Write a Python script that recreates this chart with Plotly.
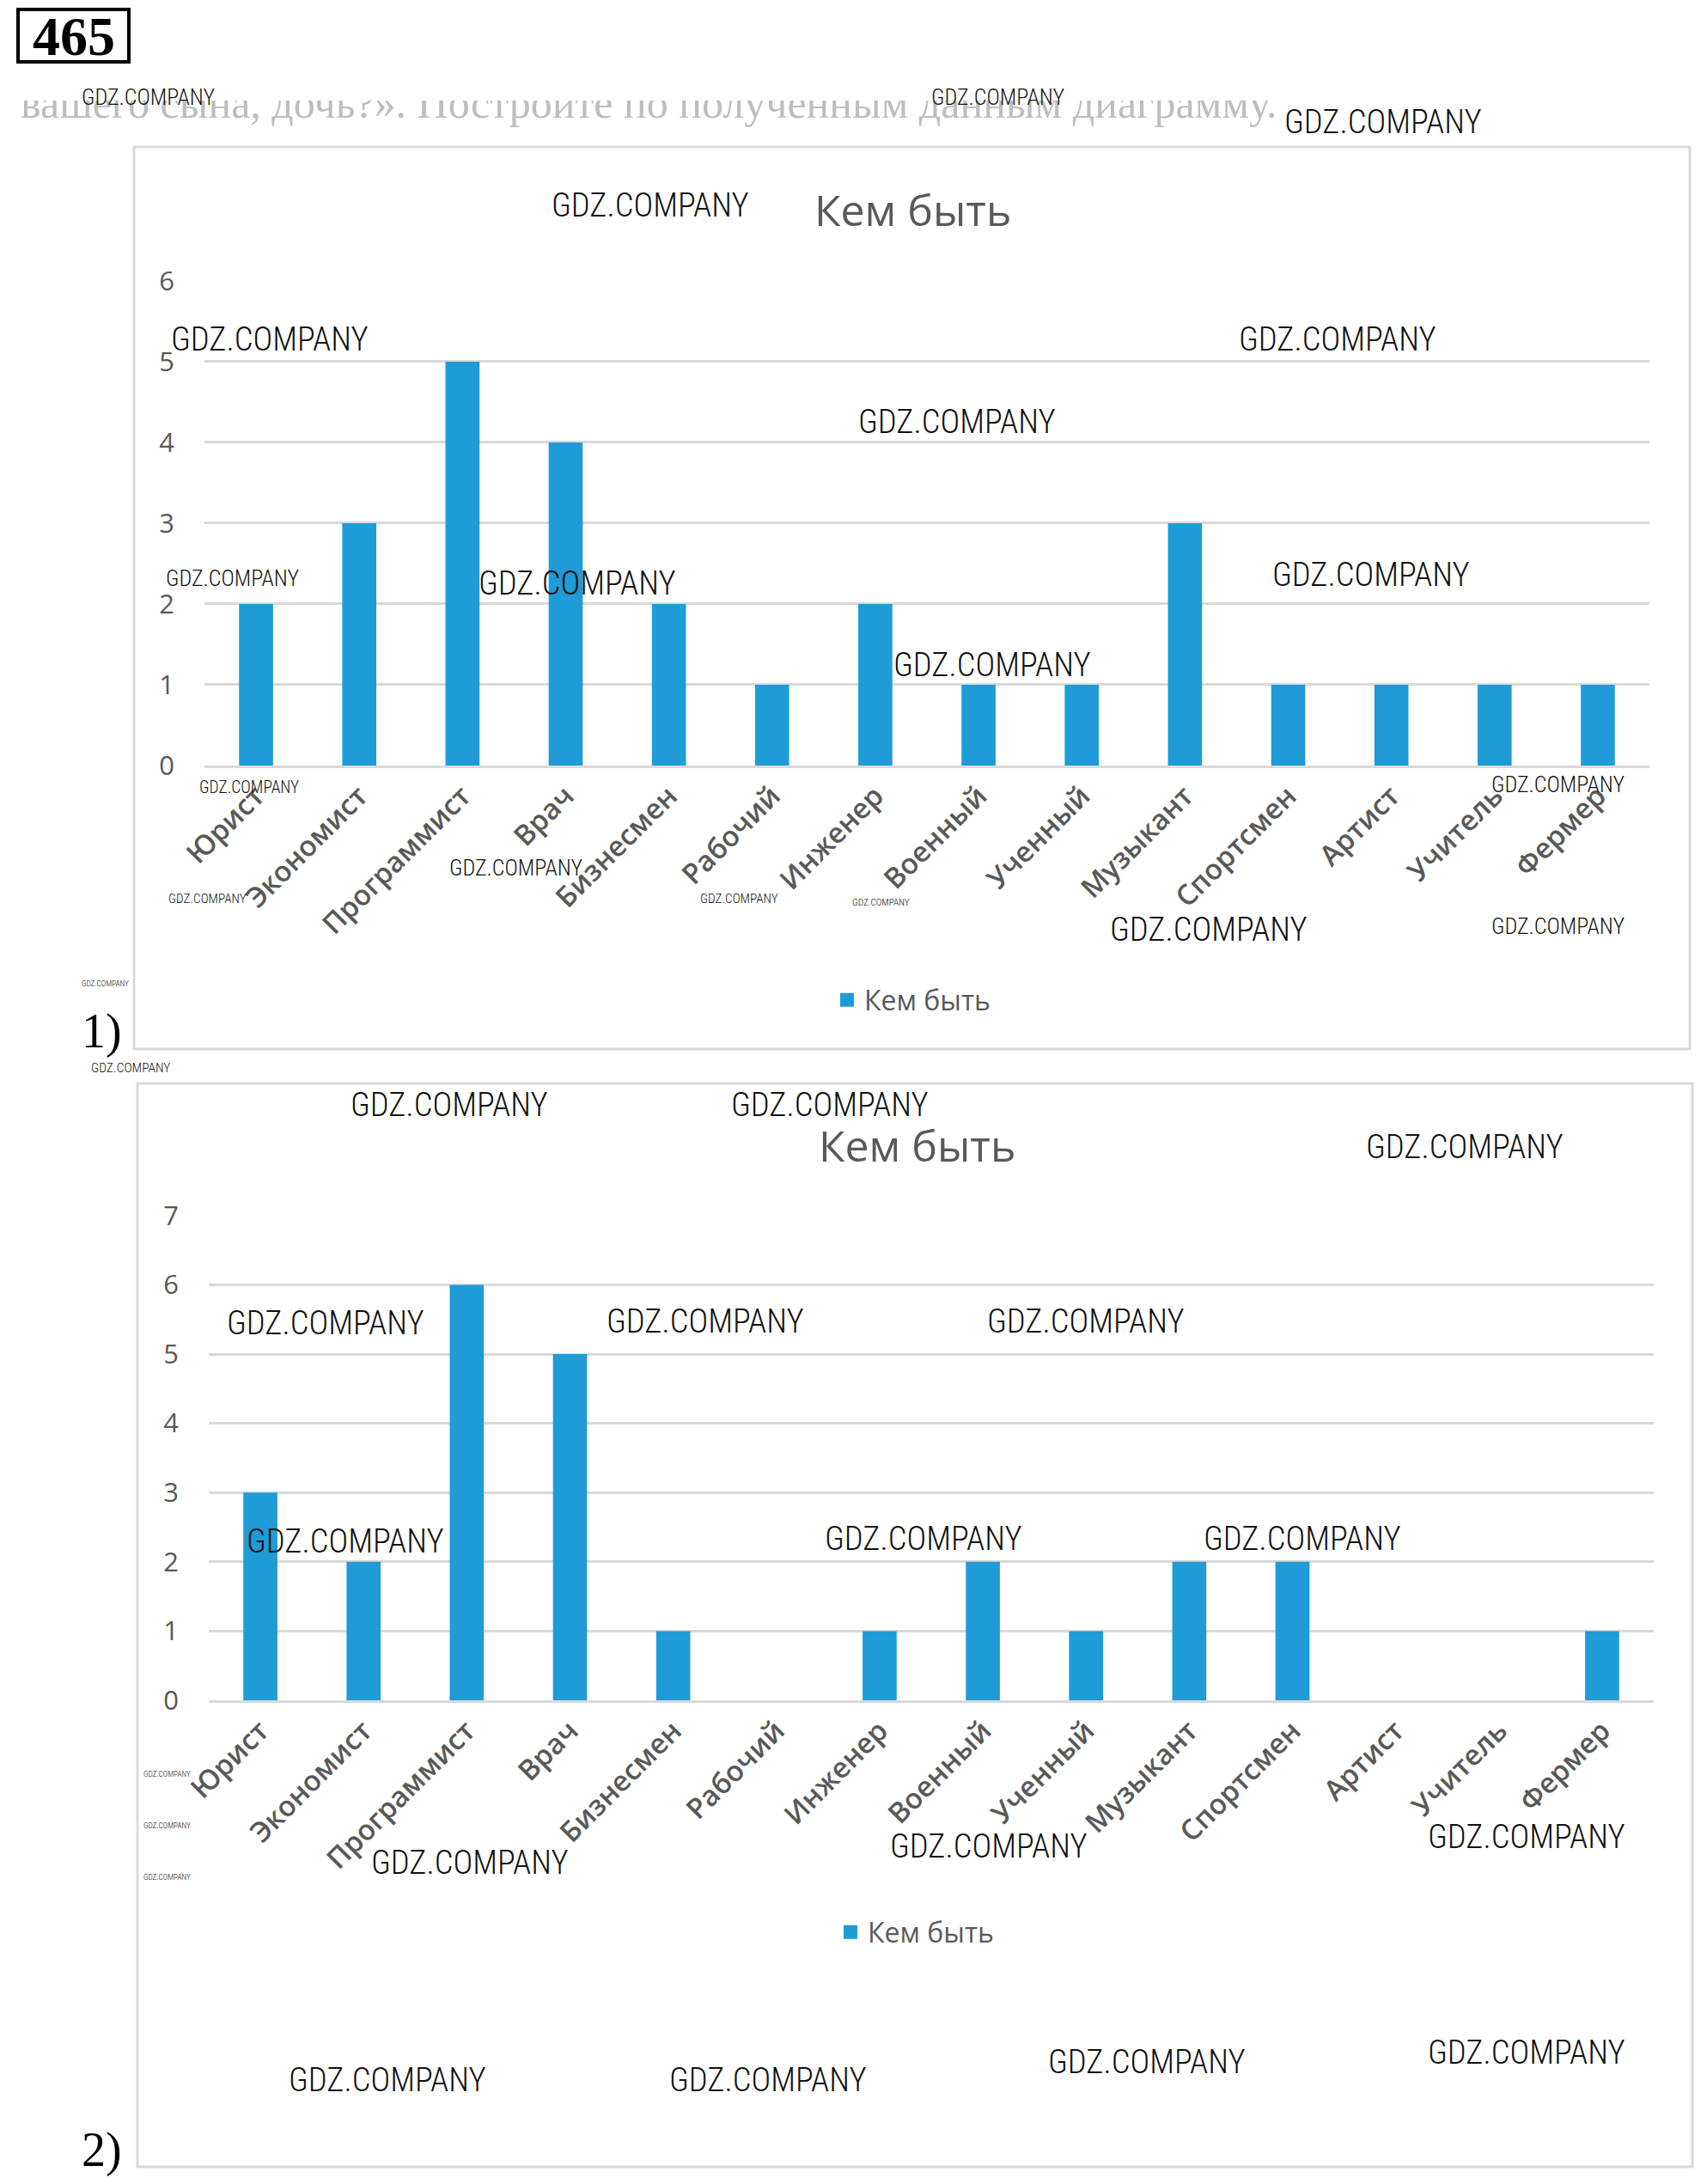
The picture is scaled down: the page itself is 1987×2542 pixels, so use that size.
import plotly.graph_objects as go

# ---------------- data ----------------
categories = ["Юрист", "Экономист", "Программист", "Врач", "Бизнесмен", "Рабочий",
              "Инженер", "Военный", "Ученный", "Музыкант", "Спортсмен", "Артист",
              "Учитель", "Фермер"]
values_1 = [2, 3, 5, 4, 2, 1, 2, 1, 1, 3, 1, 1, 1, 1]
values_2 = [3, 2, 6, 5, 1, 0, 1, 2, 1, 2, 2, 0, 0, 1]
series_name = "Кем быть"
chart_title = "Кем быть"
yticks_1 = [0, 1, 2, 3, 4, 5, 6]
yticks_2 = [0, 1, 2, 3, 4, 5, 6, 7]
page_text = "вашего сына, дочь?». Постройте по полученным данным диаграмму."

# ---------------- page geometry (absolute page pixels -> paper) ----------------
OFF = 8                      # body margin of the html page
W, H = 1987 - 2 * OFF, 2542 - 2 * OFF
def px(x):
    return (x - OFF) / W
def py(y):
    return 1 - (y - OFF) / H

BLUE = "#1F9BD7"
GRAY_TXT = "#595959"
GRID = "#D9D9D9"
FONT = "Open Sans, Noto Sans, sans-serif"
SERIF = "Liberation Serif, DejaVu Serif, serif"
WM_FONT = "Roboto Condensed, Liberation Sans Narrow, Roboto, sans-serif"

fig = go.Figure()
fig.add_trace(go.Bar(x=categories, y=values_1, name=series_name, marker_color=BLUE,
                     xaxis="x", yaxis="y", showlegend=False, hoverinfo="x+y"))
fig.add_trace(go.Bar(x=categories, y=values_2, name=series_name, marker_color=BLUE,
                     xaxis="x2", yaxis="y2", showlegend=False, hoverinfo="x+y"))
# legend entries (square swatch like the reference)
fig.add_trace(go.Scatter(x=[None], y=[None], mode="markers", name=series_name,
                         marker=dict(symbol="square", size=20, color=BLUE),
                         xaxis="x", yaxis="y", legend="legend", showlegend=True))
fig.add_trace(go.Scatter(x=[None], y=[None], mode="markers", name=series_name,
                         marker=dict(symbol="square", size=20, color=BLUE),
                         xaxis="x2", yaxis="y2", legend="legend2", showlegend=True))
# faint line of the book page (partly hidden under a white band, as in the scan)
fig.add_trace(go.Scatter(x=[px(24)], y=[py(124)], mode="text", text=[page_text],
                         textposition="middle right",
                         textfont=dict(family=SERIF, size=50, color="#BEBEBE"),
                         xaxis="x3", yaxis="y3", showlegend=False, hoverinfo="skip"))

xcommon = dict(tickangle=-45,
               tickfont=dict(family=FONT, size=33, color=GRAY_TXT, weight=600),
               showgrid=False, showline=True, linecolor=GRID, linewidth=3,
               ticks="", zeroline=False, fixedrange=True, automargin=False)
ycommon = dict(dtick=1, gridcolor=GRID, gridwidth=3, showline=False, zeroline=False,
               tickfont=dict(family=FONT, size=31, color=GRAY_TXT), ticks="",
               ticklabelstandoff=34, fixedrange=True, automargin=False)

fig.update_layout(
    template="none",
    width=W, height=H,
    margin=dict(l=0, r=0, t=0, b=0, autoexpand=False),
    paper_bgcolor="white", plot_bgcolor="rgba(0,0,0,0)",
    bargap=0.67,
    xaxis=dict(domain=[px(238), px(1920)], anchor="y", **xcommon),
    yaxis=dict(domain=[py(891), py(326)], anchor="x", range=[0, 6.01],
               tickvals=yticks_1, **ycommon),
    xaxis2=dict(domain=[px(243), px(1925)], anchor="y2", **xcommon),
    yaxis2=dict(domain=[py(1979), py(1414)], anchor="x2", range=[0, 7.01],
                tickvals=yticks_2, **ycommon),
    xaxis3=dict(domain=[0, 1], range=[0, 1], visible=False, fixedrange=True),
    yaxis3=dict(domain=[0, 1], range=[0, 1], visible=False, fixedrange=True,
                anchor="x3"),
    legend=dict(orientation="h", x=px(1062), y=py(1164), xanchor="center",
                yanchor="middle", font=dict(family=FONT, size=32, color=GRAY_TXT),
                bgcolor="rgba(0,0,0,0)", itemwidth=30),
    legend2=dict(orientation="h", x=px(1066), y=py(2249), xanchor="center",
                 yanchor="middle", font=dict(family=FONT, size=32, color=GRAY_TXT),
                 bgcolor="rgba(0,0,0,0)", itemwidth=30),
    showlegend=True,
)

# white band hiding the upper part of the page line
fig.add_shape(type="rect", xref="paper", yref="paper",
              x0=px(0), x1=px(1987), y0=py(117), y1=py(78),
              fillcolor="white", line=dict(width=0), layer="above")
# chart frames
fig.add_shape(type="rect", xref="paper", yref="paper",
              x0=px(156), x1=px(1967), y0=py(1221), y1=py(171),
              line=dict(color=GRID, width=3), layer="below")
fig.add_shape(type="rect", xref="paper", yref="paper",
              x0=px(160), x1=px(1970), y0=py(2522), y1=py(1261),
              line=dict(color=GRID, width=3), layer="below")
# task-number box
fig.add_shape(type="rect", xref="paper", yref="paper",
              x0=px(21), x1=px(150), y0=py(72), y1=py(11),
              line=dict(color="black", width=4), fillcolor="white", layer="above")

ann = []
def add_text(text, x, y, font, xanchor="center", yanchor="middle", **kw):
    ann.append(dict(text=text, x=px(x), y=py(y), xref="paper", yref="paper",
                    showarrow=False, xanchor=xanchor, yanchor=yanchor, font=font, **kw))

# titles
add_text(chart_title, 1062, 244, dict(family=FONT, size=50, color=GRAY_TXT))
add_text(chart_title, 1067, 1333, dict(family=FONT, size=50, color=GRAY_TXT))
# task number
add_text("<b>465</b>", 86, 42, dict(family=SERIF, size=64, color="black"))
# part labels
for lbl, yy in [("1)", 1200), ("2)", 2502)]:
    add_text(lbl, 118, yy, dict(family=SERIF, size=56, color="black"))

# watermarks: (center x, center y, text width) in page pixels
watermarks = [
    (172, 113, 156), (1161, 113, 156), (1610, 141, 231), (757, 238, 231),
    (314, 394, 231), (1557, 394, 231), (1114, 490, 231), (270, 673, 156),
    (672, 678, 231), (1596, 669, 231), (1155, 773, 231), (290, 916, 117),
    (1813, 913, 156), (600, 1010, 156), (241, 1046, 91), (860, 1046, 91),
    (1025, 1050, 67), (1407, 1081, 231), (1813, 1078, 156), (122, 1144, 55),
    (152, 1243, 93), (523, 1285, 231), (966, 1285, 231), (1705, 1334, 231),
    (379, 1540, 231), (821, 1537, 231), (1264, 1537, 231), (402, 1793, 231),
    (1075, 1790, 231), (1516, 1790, 231), (194, 2064, 55), (194, 2124, 55),
    (194, 2184, 55), (547, 2167, 231), (1151, 2148, 231), (1777, 2137, 231),
    (451, 2420, 231), (894, 2420, 231), (1335, 2399, 231), (1777, 2388, 231),
]
for cx, cy, tw in watermarks:
    add_text("GDZ.COMPANY", cx, cy,
             dict(family=WM_FONT, size=round(tw / 6.0, 1), color="#111111", weight=300))

fig.update_layout(annotations=ann)
fig.write_html("out.html")
